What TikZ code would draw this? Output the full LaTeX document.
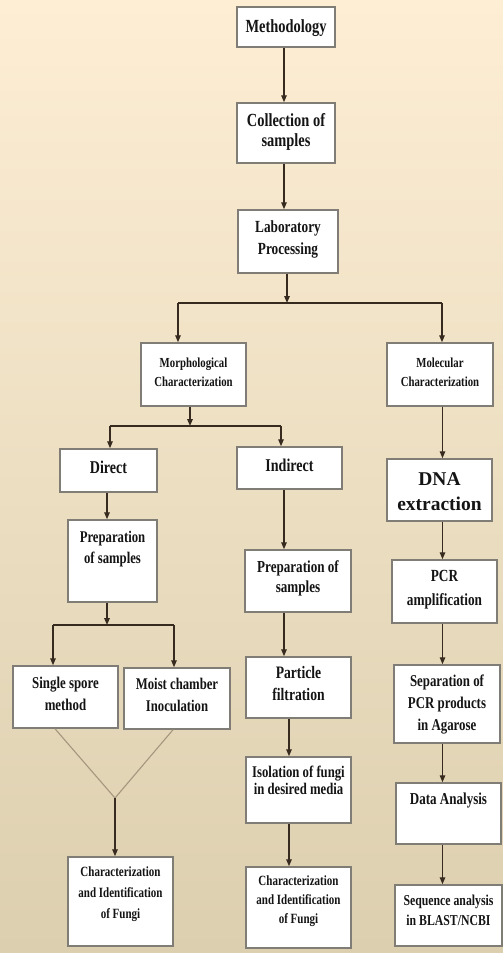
\documentclass[tikz,border=0pt]{standalone}
\usepackage{fontspec}
\setmainfont{Liberation Serif}[FakeStretch=0.78]
\newfontfamily\widefont{Liberation Serif}
\usetikzlibrary{arrows.meta}
\definecolor{bgtop}{RGB}{253,238,212}
\definecolor{bgmid}{RGB}{241,234,212}
\definecolor{bgbot}{RGB}{220,207,175}
\definecolor{boxline}{RGB}{128,124,118}
\definecolor{arrcol}{RGB}{55,42,30}
\definecolor{vcol}{RGB}{165,150,125}
\newcommand\fs[2]{\fontsize{#1}{#2}\selectfont}
\tikzset{
 boxst/.style={draw=boxline, line width=1.5pt, fill=white, inner sep=0pt},
 txt/.style={align=center, inner sep=0pt, text=black!92},
 arr/.style={draw=arrcol, line width=1.4pt, -{Triangle[length=7pt,width=5.5pt]}},
 ln/.style={draw=arrcol, line width=1.4pt},
 vln/.style={draw=vcol, line width=1.1pt},
}
\begin{document}
\begin{tikzpicture}[x=1pt,y=-1pt]
\useasboundingbox (0,0) rectangle (503,953);
\shade[top color=bgtop, middle color=bgmid, bottom color=bgbot] (0,0) rectangle (503,953);

% boxes
\node[boxst, minimum width=98pt, minimum height=40pt] (meth) at (286,27) {};
\node[boxst, minimum width=98pt, minimum height=60pt] (coll) at (286,133) {};
\node[boxst, minimum width=100pt, minimum height=63pt] (lab) at (288,241.5) {};
\node[boxst, minimum width=105pt, minimum height=63pt] (morph) at (193.5,374.5) {};
\node[boxst, minimum width=106pt, minimum height=63pt] (molec) at (440,374.5) {};
\node[boxst, minimum width=97pt, minimum height=43pt] (direct) at (108.5,470.5) {};
\node[boxst, minimum width=105pt, minimum height=42pt] (indirect) at (289.5,468) {};
\node[boxst, minimum width=105pt, minimum height=62pt] (dna) at (439.5,490) {};
\node[boxst, minimum width=89pt, minimum height=82pt] (prepL) at (112.5,561) {};
\node[boxst, minimum width=106pt, minimum height=62pt] (prepM) at (298,581) {};
\node[boxst, minimum width=105pt, minimum height=63pt] (pcr) at (444.5,591.5) {};
\node[boxst, minimum width=105pt, minimum height=62pt] (single) at (65.5,697) {};
\node[boxst, minimum width=106pt, minimum height=61pt] (moist) at (177,698.5) {};
\node[boxst, minimum width=105pt, minimum height=61pt] (part) at (298.5,687.5) {};
\node[boxst, minimum width=106pt, minimum height=78pt] (sep) at (447,704) {};
\node[boxst, minimum width=105pt, minimum height=66pt] (iso) at (298.5,790) {};
\node[boxst, minimum width=105pt, minimum height=61pt] (data) at (448.5,813.5) {};
\node[boxst, minimum width=105pt, minimum height=89pt] (charL) at (120.5,901.5) {};
\node[boxst, minimum width=105pt, minimum height=81pt] (charR) at (298.5,907.5) {};
\node[boxst, minimum width=107pt, minimum height=61pt] (seq) at (448.5,915.5) {};

% texts
\node[txt, font={\bfseries\fs{18.5}{20}}] (t1) at (286,28) {Methodology};
\node[txt, font={\bfseries\fs{18.5}{20}}] (t2) at (286,132) {Collection of\\samples};
\node[txt, font={\bfseries\fs{17}{22}}] (t3) at (288,239) {Laboratory\\Processing};
\node[txt, font={\bfseries\fs{13.8}{19}}] (t4) at (193.5,372) {Morphological\\Characterization};
\node[txt, font={\bfseries\fs{13.8}{19}}] (t5) at (440,372) {Molecular\\Characterization};
\node[txt, font={\bfseries\fs{18}{20}}] (t6) at (108.5,467) {Direct};
\node[txt, font={\bfseries\fs{18}{20}}] (t7) at (289.5,465) {Indirect};
\node[txt, font={\widefont\bfseries\fs{19.5}{25}}] (t8) at (439.5,492) {DNA\\extraction};
\node[txt, font={\bfseries\fs{16.3}{21}}] (t9) at (112.5,549) {Preparation\\of samples};
\node[txt, font={\bfseries\fs{16.8}{20}}] (t10) at (298,578) {Preparation of\\samples};
\node[txt, font={\bfseries\fs{17}{24}}] (t11) at (444.5,590) {PCR\\amplification};
\node[txt, font={\bfseries\fs{16.5}{22}}] (t12) at (65.5,694) {Single spore\\method};
\node[txt, font={\bfseries\fs{16.3}{22}}] (t13) at (177,695) {Moist chamber\\Inoculation};
\node[txt, font={\bfseries\fs{17.5}{22}}] (t14) at (298.5,684) {Particle\\filtration};
\node[txt, font={\bfseries\fs{16.5}{22}}] (t15) at (447,705) {Separation of\\PCR products\\in Agarose};
\node[txt, font={\bfseries\fs{16.3}{17}}] (t16) at (298.5,780) {Isolation of fungi\\in desired media};
\node[txt, font={\bfseries\fs{16.7}{20}}] (t17) at (448.5,800) {Data Analysis};
\node[txt, font={\bfseries\fs{14.1}{21}}] (t18) at (120.5,894) {Characterization\\and Identification\\of Fungi};
\node[txt, font={\bfseries\fs{14.1}{19}}] (t19) at (298.5,901) {Characterization\\and Identification\\of Fungi};
\node[txt, font={\bfseries\fs{15.1}{20}}] (t20) at (448.5,910) {Sequence analysis\\in BLAST/NCBI};

% junction coordinates
\coordinate (xM) at (284,0);
\coordinate (jLab) at (287,303);
\coordinate (jMorL) at (178,303);
\coordinate (jMolR) at (442,303);
\coordinate (jMor) at (190,426);
\coordinate (jDir) at (110,426);
\coordinate (jInd) at (281,426);
\coordinate (jPrep) at (107,625);
\coordinate (jSin) at (53,625);
\coordinate (jMoi) at (174,625);
\coordinate (xA) at (284,0);
\coordinate (xB) at (289,0);
\coordinate (xD) at (442.5,0);
\coordinate (vL) at (55,0);
\coordinate (vR) at (173,0);
\coordinate (vJ) at (115,798);

% connectors
\draw[arr] (meth.south -| xM) -- (coll.north -| xM);
\draw[arr] (coll.south -| xM) -- (lab.north -| xM);
\draw[arr] (lab.south -| jLab) -- (jLab);
\draw[ln] (jMorL) -- (jMolR);
\draw[arr] (jMorL) -- (jMorL |- morph.north);
\draw[arr] (jMolR) -- (jMolR |- molec.north);
\draw[arr] (morph.south -| jMor) -- (jMor);
\draw[ln] (jDir) -- (jInd);
\draw[arr] (jDir) -- (jDir |- direct.north);
\draw[arr] (jInd) -- (jInd |- indirect.north);
\draw[arr] (molec.south -| xD) -- (dna.north -| xD);
\draw[arr] (direct.south -| jPrep) -- (prepL.north -| jPrep);
\draw[arr] (indirect.south -| xA) -- (prepM.north -| xA);
\draw[arr] (prepL.south -| jPrep) -- (jPrep);
\draw[ln] (jSin) -- (jMoi);
\draw[arr] (jSin) -- (jSin |- single.north);
\draw[arr] (jMoi) -- (jMoi |- moist.north);
\draw[arr] (prepM.south -| xA) -- (part.north -| xA);
\draw[arr] (part.south -| xB) -- (iso.north -| xB);
\draw[arr] (iso.south -| xB) -- (charR.north -| xB);
\draw[arr] (dna.south -| xD) -- (pcr.north -| xD);
\draw[arr] (pcr.south -| xD) -- (sep.north -| xD);
\draw[arr] (sep.south -| xD) -- (data.north -| xD);
\draw[arr] (data.south -| xD) -- (seq.north -| xD);
\draw[vln] (single.south -| vL) -- (vJ) -- (moist.south -| vR);
\draw[arr] (vJ) -- (vJ |- charL.north);
\end{tikzpicture}
\end{document}
